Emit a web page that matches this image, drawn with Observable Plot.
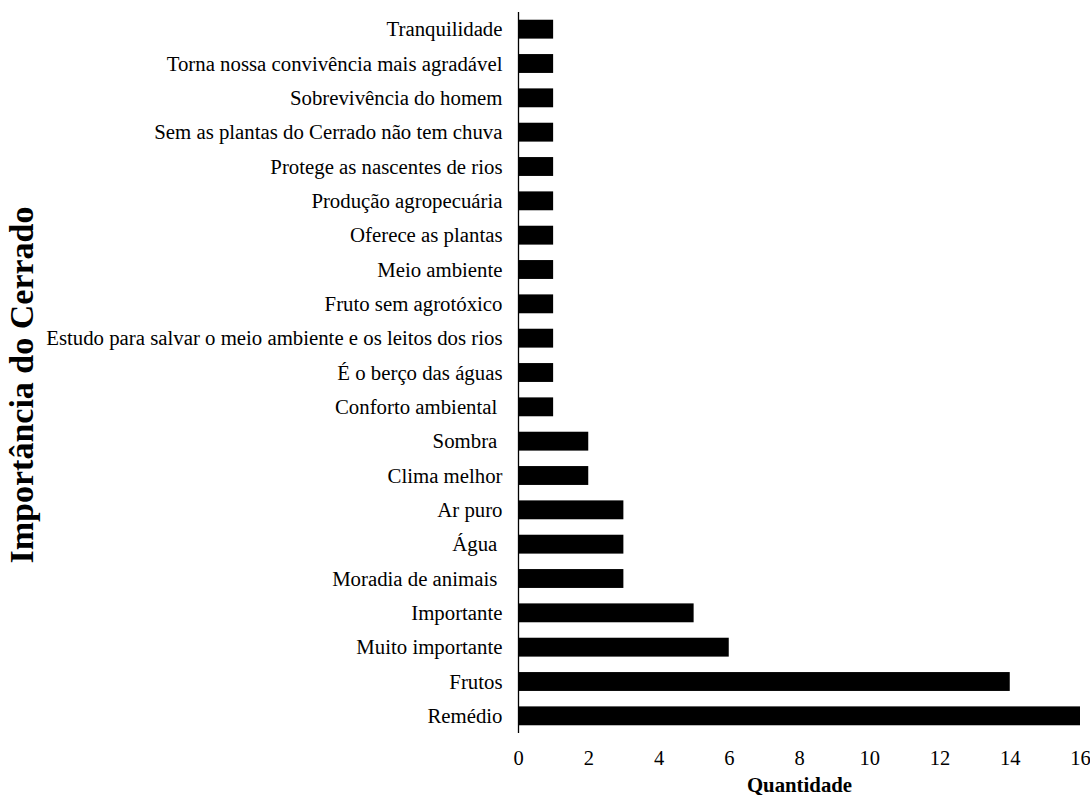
<!DOCTYPE html>
<html>
<head>
<meta charset="utf-8">
<script src="https://cdn.jsdelivr.net/npm/d3@7"></script>
<script src="https://cdn.jsdelivr.net/npm/@observablehq/plot@0.6"></script>
<style>
  html, body { margin: 0; padding: 0; background: #fff; }
  svg text { white-space: pre; }
</style>
</head>
<body>
<div id="chart"></div>
<script>
// Reasons given for the importance of the Cerrado, from top to bottom
const categories = [
  "Tranquilidade",
  "Torna nossa convivência mais agradável",
  "Sobrevivência do homem",
  "Sem as plantas do Cerrado não tem chuva",
  "Protege as nascentes de rios",
  "Produção agropecuária",
  "Oferece as plantas",
  "Meio ambiente",
  "Fruto sem agrotóxico",
  "Estudo para salvar o meio ambiente e os leitos dos rios",
  "É o berço das águas",
  "Conforto ambiental\u00a0",
  "Sombra\u00a0",
  "Clima melhor",
  "Ar puro",
  "Água\u00a0",
  "Moradia de animais\u00a0",
  "Importante",
  "Muito importante",
  "Frutos",
  "Remédio"
];
const counts = [1, 1, 1, 1, 1, 1, 1, 1, 1, 1, 1, 1, 2, 2, 3, 3, 3, 5, 6, 14, 16];
const xTicks = [0, 2, 4, 6, 8, 10, 12, 14, 16];

const data = categories.map((c, i) => ({category: c, value: counts[i]}));

const font = "'Liberation Serif', 'Times New Roman', serif";

const chart = Plot.plot({
  width: 1090,
  height: 795,
  marginLeft: 518,
  marginRight: 10,
  marginTop: 12,
  marginBottom: 62,
  style: {fontFamily: font, fontSize: "21px", color: "#000", background: "#fff"},
  x: {domain: [0, 16], ticks: xTicks},
  y: {domain: categories, paddingInner: 0.45, paddingOuter: 0.225, round: false},
  marks: [
    Plot.barX(data, {x: "value", y: "category", fill: "#000"}),
    Plot.axisX({ticks: xTicks, tickSize: 0, tickPadding: 17, fontSize: 20.5, label: null}),
    Plot.axisY({tickSize: 0, tickPadding: 16, fontSize: 20.8, label: null}),
    Plot.ruleX([0], {stroke: "#000", strokeWidth: 1.3}),
    Plot.ruleY([0], {stroke: "#000", strokeWidth: 1.3}),
    Plot.text(["Quantidade"], {frameAnchor: "bottom", dy: 58, fontWeight: "bold", fontSize: 20.8}),
    Plot.text(["Importância do Cerrado"], {frameAnchor: "left", textAnchor: "middle", dx: -496, dy: 12, rotate: -90, fontWeight: "bold", fontSize: 34})
  ]
});

document.getElementById("chart").appendChild(chart);
</script>
</body>
</html>
